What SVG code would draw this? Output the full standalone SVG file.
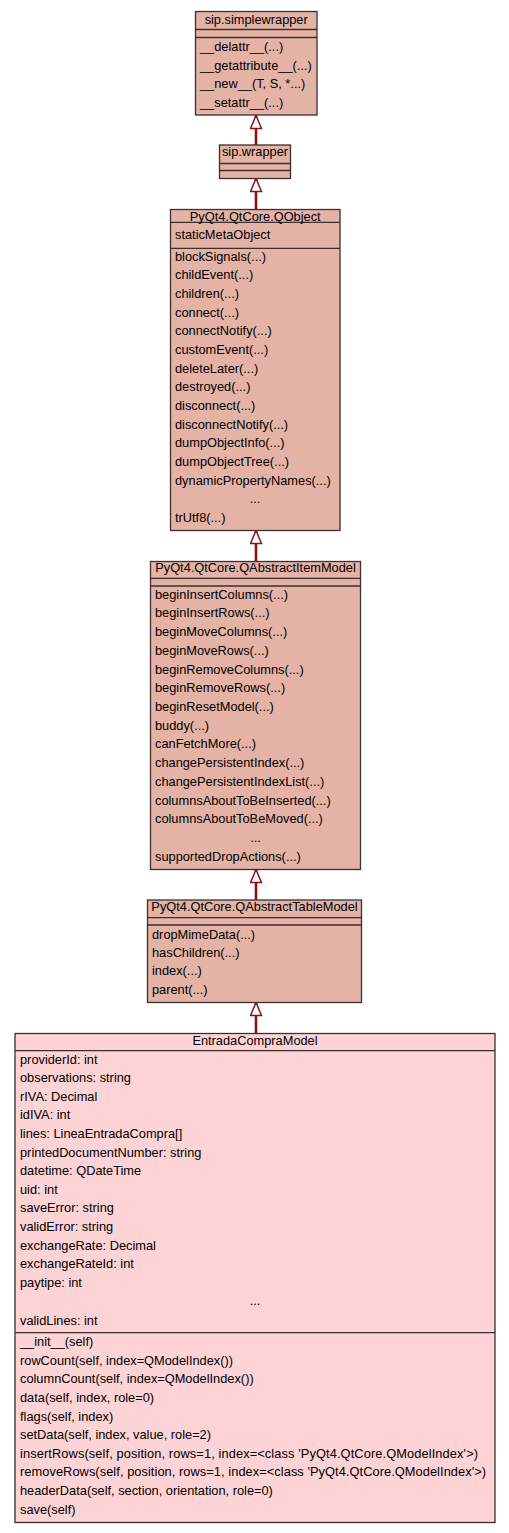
<svg xmlns="http://www.w3.org/2000/svg" width="509" height="1533" viewBox="0 0 509 1533">
<defs>
<style>
text{font-family:"Liberation Sans",Arial,sans-serif;font-size:12.8px;fill:#000}
.c{text-anchor:middle}
.base{fill:#e4b3a5;stroke:#3b2f2f;stroke-width:1.3}
.main{fill:#fdd3d6;stroke:#3b2f2f;stroke-width:1.3}
.sep{stroke:#3b2f2f;stroke-width:1.3;fill:none}
.edge{stroke:#8b1414;stroke-width:2.6;fill:none;marker-end:url(#tri)}
</style>
<marker id="tri" markerUnits="userSpaceOnUse" viewBox="-1 -1 15 13" refX="13" refY="5.5" markerWidth="15" markerHeight="13" orient="auto">
<path d="M13,5.5 L0,0 L0,11 Z" fill="#fff" stroke="#8b1414" stroke-width="1.5"/>
</marker>
</defs>
<rect width="509" height="1533" fill="#fff"/>

<g id="connectors">
<path class="edge" d="M256,145 L256,115.5"/>
<path class="edge" d="M256,209.5 L256,178.5"/>
<path class="edge" d="M256,561.5 L256,530.5"/>
<path class="edge" d="M256,900 L256,869.5"/>
<path class="edge" d="M256,1033.5 L256,1002.5"/>
</g>

<g id="sip_simplewrapper">
<rect class="base" x="195.5" y="11.5" width="121.5" height="103.5"/>
<path class="sep" d="M195.5,29.5H317M195.5,37.5H317"/>
<text class="c" x="256.2" y="23.6">sip.simplewrapper</text>
<text x="200" y="51.2">__delattr__(...)</text>
<text x="200" y="69.7">__getattribute__(...)</text>
<text x="200" y="88.2">__new__(T, S, *...)</text>
<text x="200" y="106.7">__setattr__(...)</text>
</g>

<g id="sip_wrapper">
<rect class="base" x="219.5" y="145" width="71" height="33.5"/>
<path class="sep" d="M219.5,163.5H290.5M219.5,170.5H290.5"/>
<text class="c" x="255" y="156.4">sip.wrapper</text>
</g>

<g id="QObject">
<rect class="base" x="170.5" y="209.5" width="169.5" height="321"/>
<path class="sep" d="M170.5,222.3H340M170.5,248.3H340"/>
<text class="c" x="255.2" y="220.6">PyQt4.QtCore.QObject</text>
<text x="175" y="239.2">staticMetaObject</text>
<text x="175" y="260.8">blockSignals(...)</text>
<text x="175" y="279.4">childEvent(...)</text>
<text x="175" y="298.1">children(...)</text>
<text x="175" y="316.7">connect(...)</text>
<text x="175" y="335.4">connectNotify(...)</text>
<text x="175" y="354.0">customEvent(...)</text>
<text x="175" y="372.6">deleteLater(...)</text>
<text x="175" y="391.3">destroyed(...)</text>
<text x="175" y="409.9">disconnect(...)</text>
<text x="175" y="428.6">disconnectNotify(...)</text>
<text x="175" y="447.2">dumpObjectInfo(...)</text>
<text x="175" y="465.8">dumpObjectTree(...)</text>
<text x="175" y="484.5">dynamicPropertyNames(...)</text>
<text class="c" x="255" y="503.1">...</text>
<text x="175" y="521.8">trUtf8(...)</text>
</g>

<g id="QAbstractItemModel">
<rect class="base" x="150.5" y="561.5" width="210" height="308"/>
<path class="sep" d="M150.5,578.3H360.5M150.5,586H360.5"/>
<text class="c" x="255.5" y="571.6">PyQt4.QtCore.QAbstractItemModel</text>
<text x="155" y="598.5">beginInsertColumns(...)</text>
<text x="155" y="617.2">beginInsertRows(...)</text>
<text x="155" y="636.0">beginMoveColumns(...)</text>
<text x="155" y="654.7">beginMoveRows(...)</text>
<text x="155" y="673.5">beginRemoveColumns(...)</text>
<text x="155" y="692.2">beginRemoveRows(...)</text>
<text x="155" y="710.9">beginResetModel(...)</text>
<text x="155" y="729.7">buddy(...)</text>
<text x="155" y="748.4">canFetchMore(...)</text>
<text x="155" y="767.2">changePersistentIndex(...)</text>
<text x="155" y="785.9">changePersistentIndexList(...)</text>
<text x="155" y="804.6">columnsAboutToBeInserted(...)</text>
<text x="155" y="823.4">columnsAboutToBeMoved(...)</text>
<text class="c" x="255.5" y="842.1">...</text>
<text x="155" y="860.9">supportedDropActions(...)</text>
</g>

<g id="QAbstractTableModel">
<rect class="base" x="147.5" y="900" width="214" height="102.5"/>
<path class="sep" d="M147.5,917.7H361.5M147.5,925H361.5"/>
<text class="c" x="254.5" y="911">PyQt4.QtCore.QAbstractTableModel</text>
<text x="152" y="938.5">dropMimeData(...)</text>
<text x="152" y="956.8">hasChildren(...)</text>
<text x="152" y="975.2">index(...)</text>
<text x="152" y="993.5">parent(...)</text>
</g>

<g id="EntradaCompraModel">
<rect class="main" x="15" y="1033.5" width="480" height="489"/>
<path class="sep" d="M15,1050.7H495M15,1332.7H495"/>
<text class="c" x="255" y="1045.3">EntradaCompraModel</text>
<text x="20" y="1063.5">providerId: int</text>
<text x="20" y="1082.1">observations: string</text>
<text x="20" y="1100.7">rIVA: Decimal</text>
<text x="20" y="1119.3">idIVA: int</text>
<text x="20" y="1137.9">lines: LineaEntradaCompra[]</text>
<text x="20" y="1156.5">printedDocumentNumber: string</text>
<text x="20" y="1175.1">datetime: QDateTime</text>
<text x="20" y="1193.7">uid: int</text>
<text x="20" y="1212.3">saveError: string</text>
<text x="20" y="1230.9">validError: string</text>
<text x="20" y="1249.5">exchangeRate: Decimal</text>
<text x="20" y="1268.1">exchangeRateId: int</text>
<text x="20" y="1286.7">paytipe: int</text>
<text class="c" x="255" y="1305.3">...</text>
<text x="20" y="1324.6">validLines: int</text>
<text x="20" y="1346.2">__init__(self)</text>
<text x="20" y="1364.8">rowCount(self, index=QModelIndex())</text>
<text x="20" y="1383.4">columnCount(self, index=QModelIndex())</text>
<text x="20" y="1402.0">data(self, index, role=0)</text>
<text x="20" y="1420.6">flags(self, index)</text>
<text x="20" y="1439.2">setData(self, index, value, role=2)</text>
<text x="20" y="1457.7" textLength="458" lengthAdjust="spacing">insertRows(self, position, rows=1, index=&lt;class 'PyQt4.QtCore.QModelIndex'&gt;)</text>
<text x="20" y="1476.3" textLength="466" lengthAdjust="spacing">removeRows(self, position, rows=1, index=&lt;class 'PyQt4.QtCore.QModelIndex'&gt;)</text>
<text x="20" y="1494.9">headerData(self, section, orientation, role=0)</text>
<text x="20" y="1513.5">save(self)</text>
</g>
</svg>
